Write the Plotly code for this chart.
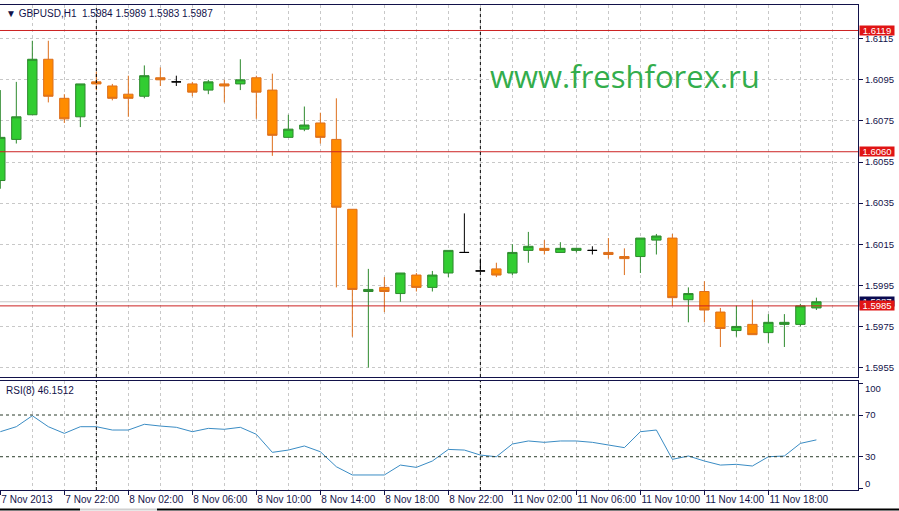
import plotly.graph_objects as go

# ---------------- data ----------------
bars = list(range(52))  # hourly bars from 7 Nov 2013 18:00
opens = [1.6046, 1.6066, 1.6078, 1.6105, 1.6086, 1.6077, 1.6094, 1.6092, 1.6088, 1.6087,
         1.6096, 1.6094, 1.6093, 1.6090, 1.6093, 1.6093, 1.6096, 1.6090, 1.6067, 1.6071,
         1.6074, 1.6066, 1.6032, 1.5992, 1.5994, 1.5991, 1.6000, 1.5994, 1.6001, 1.6011,
         1.6002, 1.6003, 1.6001, 1.6012, 1.6013, 1.6011, 1.6012, 1.6012, 1.6011, 1.6009,
         1.6009, 1.6017, 1.6018, 1.5988, 1.5992, 1.5982, 1.5973, 1.5976, 1.5972, 1.5976,
         1.5976, 1.5984]
highs = [1.6090, 1.6094, 1.6114, 1.6114, 1.6088, 1.6093, 1.6099, 1.6093, 1.6097, 1.6102,
         1.6101, 1.6097, 1.6094, 1.6095, 1.6095, 1.6105, 1.6097, 1.6098, 1.6078, 1.6082,
         1.6079, 1.6086, 1.6032, 1.6003, 1.5999, 1.6001, 1.6001, 1.6002, 1.6012, 1.6030,
         1.6008, 1.6006, 1.6015, 1.6021, 1.6017, 1.6016, 1.6013, 1.6014, 1.6018, 1.6013,
         1.6018, 1.6020, 1.6020, 1.5994, 1.5997, 1.5984, 1.5985, 1.5988, 1.5981, 1.5981,
         1.5986, 1.5989]
lows = [1.6042, 1.6064, 1.6078, 1.6084, 1.6074, 1.6072, 1.6090, 1.6085, 1.6077, 1.6086,
        1.6092, 1.6092, 1.6087, 1.6088, 1.6084, 1.6090, 1.6076, 1.6058, 1.6067, 1.6070,
        1.6064, 1.5994, 1.5970, 1.5955, 1.5982, 1.5987, 1.5992, 1.5992, 1.5999, 1.6011,
        1.6002, 1.5999, 1.6000, 1.6006, 1.6010, 1.6011, 1.6011, 1.6010, 1.6008, 1.6000,
        1.6001, 1.6010, 1.5985, 1.5977, 1.5977, 1.5965, 1.5970, 1.5971, 1.5967, 1.5965,
        1.5975, 1.5983]
closes = [1.6067, 1.6077, 1.6105, 1.6087, 1.6076, 1.6093, 1.6093, 1.6086, 1.6086, 1.6097,
          1.6095, 1.6094, 1.6089, 1.6094, 1.6092, 1.6095, 1.6089, 1.6068, 1.6071, 1.6073,
          1.6067, 1.6033, 1.5993, 1.5993, 1.5992, 1.6001, 1.5994, 1.6000, 1.6012, 1.6011,
          1.6002, 1.6000, 1.6011, 1.6014, 1.6012, 1.6013, 1.6013, 1.6012, 1.6010, 1.6008,
          1.6018, 1.6019, 1.5989, 1.5991, 1.5983, 1.5974, 1.5975, 1.5971, 1.5977, 1.5977,
          1.5985, 1.5987]
rsi = [54.0, 58.8, 69.3, 58.8, 52.4, 58.8, 58.8, 55.6, 55.6, 61.1,
       59.4, 58.2, 54.0, 57.2, 56.3, 58.2, 51.5, 34.2, 36.4, 40.3,
       34.8, 20.4, 12.5, 12.5, 12.5, 22.0, 19.8, 25.9, 37.0, 36.4,
       31.6, 30.0, 42.2, 45.1, 43.8, 45.1, 45.1, 43.8, 41.2, 38.7,
       54.0, 55.6, 27.5, 30.7, 25.9, 22.0, 22.7, 21.1, 30.0, 30.7,
       42.8, 46.15]
time_ticks = [0, 4, 8, 12, 16, 20, 24, 28, 32, 36, 40, 44, 48]
time_labels = ["7 Nov 2013", "7 Nov 22:00", "8 Nov 02:00", "8 Nov 06:00", "8 Nov 10:00",
               "8 Nov 14:00", "8 Nov 18:00", "8 Nov 22:00", "11 Nov 02:00", "11 Nov 06:00",
               "11 Nov 10:00", "11 Nov 14:00", "11 Nov 18:00"]
price_ticks = [1.5955, 1.5975, 1.5995, 1.6015, 1.6035, 1.6055, 1.6075, 1.6095, 1.6115]
red_levels = [1.6119, 1.6060, 1.5985]
bid_price = 1.5987
day_separators = [6, 30]
rsi_levels = [30, 70]
rsi_ticks = [0, 30, 70, 100]

# ---------------- styling ----------------
NAVY = "#12124a"
GRID = "#c8c8c8"
FONT = "Liberation Sans, Arial, sans-serif"
G_FILL, G_LINE = "#32cd32", "#2e8a2e"
O_FILL, O_LINE = "#ff8c00", "#dd6f1c"

groups = {"up": [], "down": [], "flat": []}
for i in bars:
    if closes[i] > opens[i]:
        groups["up"].append(i)
    elif closes[i] < opens[i]:
        groups["down"].append(i)
    else:
        groups["flat"].append(i)

fig = go.Figure()
for key, fill, line in [("up", G_FILL, G_LINE), ("down", O_FILL, O_LINE), ("flat", "#000000", "#000000")]:
    ids = groups[key]
    fig.add_trace(go.Candlestick(
        x=ids,
        open=[opens[i] for i in ids], high=[highs[i] for i in ids],
        low=[lows[i] for i in ids], close=[closes[i] for i in ids],
        increasing=dict(fillcolor=fill, line=dict(color=line, width=1)),
        decreasing=dict(fillcolor=fill, line=dict(color=line, width=1)),
        whiskerwidth=0, xaxis="x", yaxis="y", hoverinfo="skip", showlegend=False,
    ))

fig.add_trace(go.Scatter(x=bars, y=rsi, mode="lines", line=dict(color="#3a8cc4", width=1),
                         xaxis="x2", yaxis="y2", hoverinfo="skip", showlegend=False))

W, H = 899, 511
ml, mr, mt, mb = 0, 41, 5, 21
ph = H - mt - mb
main_bottom = (490 - 377) / ph
rsi_top = (490 - 381) / ph

def py(pix):
    return (490 - pix) / ph

xr = [-0.02, 53.6]
common_x = dict(range=xr, tickmode="array", tickvals=time_ticks, showgrid=True,
                gridcolor=GRID, griddash="3px,3px", gridwidth=1, zeroline=False,
                minor=dict(tickvals=list(range(0, 54, 2)), showgrid=True, gridcolor=GRID,
                           griddash="3px,3px", gridwidth=1, ticks=""),
                showline=True, linecolor=NAVY, linewidth=1, mirror=True, fixedrange=True)

fig.update_layout(
    width=W, height=H,
    margin=dict(l=ml, r=mr, t=mt, b=mb, pad=0, autoexpand=False),
    paper_bgcolor="white", plot_bgcolor="white",
    font=dict(family=FONT, color=NAVY, size=10),
    showlegend=False,
    boxgap=0.35, boxgroupgap=0.1,
    xaxis=dict(domain=[0, 1], anchor="y", showticklabels=False, ticks="",
               rangeslider=dict(visible=False), **common_x),
    xaxis2=dict(domain=[0, 1], anchor="y2", matches="x", ticktext=time_labels,
                ticks="outside", ticklen=4, tickcolor=NAVY, ticklabelposition="outside right",
                tickangle=0, automargin=False,
                tickfont=dict(family=FONT, size=10, color=NAVY), **common_x),
    yaxis=dict(domain=[main_bottom, 1], range=[1.59504, 1.61314], side="right",
               tickmode="array", tickvals=price_ticks,
               ticktext=[f"{v:.4f}" for v in price_ticks],
               ticks="outside", ticklen=4, tickcolor=NAVY, automargin=False,
               tickfont=dict(family=FONT, size=9.5, color=NAVY),
               showgrid=True, gridcolor=GRID, griddash="3px,3px", zeroline=False,
               showline=True, linecolor=NAVY, fixedrange=True),
    yaxis2=dict(domain=[0, rsi_top], range=[-1.9, 102.6], side="right",
                tickmode="array", tickvals=rsi_ticks, ticktext=["", "30", "70", ""],
                ticks="outside", ticklen=4,
                tickcolor=NAVY, tickfont=dict(family=FONT, size=9.5, color=NAVY),
                showgrid=False, zeroline=False, showline=True, linecolor=NAVY,
                automargin=False, fixedrange=True),
)

shapes = []
# bid line
shapes.append(dict(type="line", xref="paper", yref="y", x0=0, x1=1, y0=bid_price, y1=bid_price,
                   line=dict(color="#c8c8c8", width=1), layer="below"))
# red horizontal levels
for lv in red_levels:
    shapes.append(dict(type="line", xref="paper", yref="y", x0=0, x1=1, y0=lv, y1=lv,
                       line=dict(color="#cc2222", width=1)))
# day separators across both panes
for d in day_separators:
    shapes.append(dict(type="line", xref="x", yref="paper", x0=d, x1=d, y0=main_bottom, y1=1,
                       line=dict(color="#000000", width=1, dash="3px,3px")))
    shapes.append(dict(type="line", xref="x", yref="paper", x0=d, x1=d, y0=0, y1=rsi_top,
                       line=dict(color="#000000", width=1, dash="3px,3px")))
# RSI levels
for lv in rsi_levels:
    shapes.append(dict(type="line", xref="paper", yref="y2", x0=0, x1=1, y0=lv, y1=lv,
                       line=dict(color="#2b3b2b", width=1, dash="3px,3px")))
# bottom window edge
shapes.append(dict(type="line", xref="paper", yref="paper", x0=0, x1=80 / 858, y0=py(509.5), y1=py(509.5),
                   line=dict(color="#000000", width=2)))
shapes.append(dict(type="line", xref="paper", yref="paper", x0=157 / 858, x1=W / 858, y0=py(509.5), y1=py(509.5),
                   line=dict(color="#000000", width=2)))
shapes.append(dict(type="line", xref="paper", yref="paper", x0=80 / 858, x1=157 / 858, y0=py(509.5), y1=py(509.5),
                   line=dict(color="#d0d0d0", width=2)))
fig.update_layout(shapes=shapes)

ann = []
ann.append(dict(xref="paper", yref="paper", x=4 / 858, y=py(13), xanchor="left", yanchor="middle",
                text="▼ GBPUSD,H1  1.5984 1.5989 1.5983 1.5987", showarrow=False,
                font=dict(family=FONT, size=10, color=NAVY)))
ann.append(dict(xref="paper", yref="paper", x=4 / 858, y=py(390), xanchor="left", yanchor="middle",
                text="RSI(8) 46.1512", showarrow=False, font=dict(family=FONT, size=10, color=NAVY)))
ann.append(dict(xref="paper", yref="paper", x=488 / 858, y=py(76), xanchor="left", yanchor="middle",
                text="www.freshforex.ru", showarrow=False,
                font=dict(family="Open Sans, Noto Sans, sans-serif", size=31, color="#33ad4c")))
# RSI scale end labels (kept inside the pane as in the reference)
ann.append(dict(xref="paper", yref="paper", x=1, y=py(388.5), xanchor="left", yanchor="middle",
                xshift=5, text="100", showarrow=False, font=dict(family=FONT, size=9.5, color=NAVY)))
ann.append(dict(xref="paper", yref="paper", x=1, y=py(483.5), xanchor="left", yanchor="middle",
                xshift=5, text="0", showarrow=False, font=dict(family=FONT, size=9.5, color=NAVY)))
# price labels on the right scale
ann.append(dict(xref="paper", yref="y", x=1, y=bid_price, xanchor="left", yanchor="middle",
                text="1.5987", showarrow=False, bgcolor="#0a0a50", width=34, height=9,
                borderpad=0, xshift=1, yshift=0, font=dict(family=FONT, size=9.5, color="white")))
for lv in red_levels:
    ann.append(dict(xref="paper", yref="y", x=1, y=lv, xanchor="left", yanchor="middle",
                    text=f"{lv:.4f}", showarrow=False, bgcolor="#e01414", width=34, height=9,
                    borderpad=0, xshift=1, font=dict(family=FONT, size=9.5, color="white")))
fig.update_layout(annotations=ann)

fig.write_html("out.html",
               config={"displayModeBar": False, "staticPlot": True},
               post_script="document.body.style.margin='0';document.body.style.padding='0';"
                           "document.documentElement.style.margin='0';")
